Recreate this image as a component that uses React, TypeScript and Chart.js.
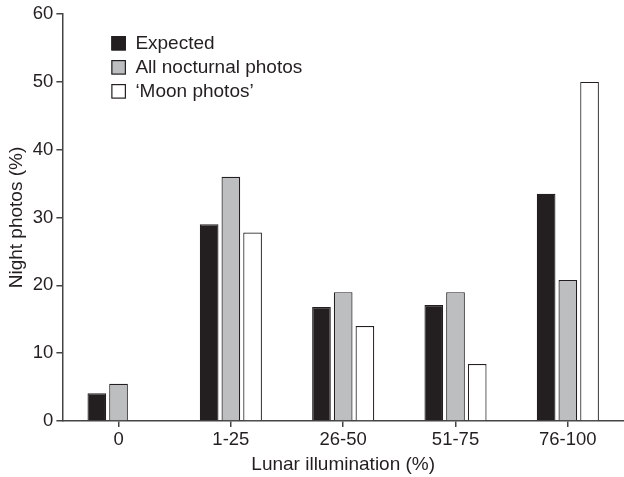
import React, { useEffect, useRef } from "react";
import { Chart, registerables } from "chart.js";

Chart.register(...registerables);

const categories = ["0", "1-25", "26-50", "51-75", "76-100"];
const expected = [4.1, 29.0, 16.8, 17.1, 33.5];
const allNocturnal = [5.5, 36.0, 19.0, 19.0, 20.8];
const moonPhotos = [0, 27.8, 14.0, 8.4, 50.0];
const seriesLabels = ["Expected", "All nocturnal photos", "\u2018Moon photos\u2019"];
const yTicks = [0, 10, 20, 30, 40, 50, 60];

const FONT = "'Liberation Sans', Arial, Helvetica, sans-serif";
const INK = "#231f20";

const legendPlugin = {
  id: "insideLegend",
  afterDraw(chart: any) {
    const { ctx, chartArea } = chart;
    const x0 = chartArea.left + 49;
    const y0 = chartArea.top + 29;
    ctx.save();
    ctx.font = `19px ${FONT}`;
    ctx.textBaseline = "middle";
    chart.data.datasets.forEach((ds: any, i: number) => {
      const cy = y0 + i * 24;
      ctx.fillStyle = ds.backgroundColor;
      ctx.fillRect(x0, cy - 7, 14, 14);
      ctx.strokeStyle = ds.borderColor;
      ctx.lineWidth = 1.2;
      ctx.strokeRect(x0 + 0.5, cy - 6.5, 13.5, 13.5);
      ctx.fillStyle = INK;
      ctx.fillText(ds.label, x0 + 24, cy + 1);
    });
    ctx.restore();
  },
};

export default function App() {
  const ref = useRef<HTMLCanvasElement>(null);
  useEffect(() => {
    if (!ref.current) return;
    const mk = (label: string, data: number[], bg: string) => ({
      label,
      data,
      backgroundColor: bg,
      borderColor: INK,
      borderWidth: 1.2,
      categoryPercentage: 0.58,
      barPercentage: 0.86,
    });
    const chart = new Chart(ref.current, {
      type: "bar",
      data: {
        labels: categories,
        datasets: [
          mk(seriesLabels[0], expected, "#231f20"),
          mk(seriesLabels[1], allNocturnal, "#bcbec0"),
          mk(seriesLabels[2], moonPhotos, "#ffffff"),
        ],
      },
      options: {
        animation: false,
        responsive: false,
        devicePixelRatio: 1,
        layout: { padding: { top: 6, right: 0, left: 5, bottom: 0 } },
        plugins: {
          legend: { display: false },
          tooltip: { enabled: false },
        },
        scales: {
          x: {
            offset: true,
            grid: {
              offset: false,
              drawOnChartArea: false,
              drawTicks: true,
              tickLength: 6,
              color: "#444",
              lineWidth: 1.5,
            },
            border: { display: true, color: "#444", width: 1.5 },
            ticks: { color: INK, font: { family: FONT, size: 18.5 }, padding: 2 },
            title: {
              display: true,
              text: "Lunar illumination (%)",
              color: INK,
              font: { family: FONT, size: 19 },
              padding: { top: 0, bottom: 1 },
            },
          },
          y: {
            min: 0,
            max: 60,
            afterBuildTicks: (axis: any) => {
              axis.ticks = yTicks.map((v) => ({ value: v }));
            },
            grid: {
              drawOnChartArea: false,
              drawTicks: true,
              tickLength: 6,
              color: "#444",
              lineWidth: 1.5,
            },
            border: { display: true, color: "#444", width: 1.5 },
            ticks: { color: INK, font: { family: FONT, size: 18.5 }, padding: 3 },
            title: {
              display: true,
              text: "Night photos (%)",
              color: INK,
              font: { family: FONT, size: 19 },
              padding: { top: 0, bottom: 2 },
            },
          },
        },
      },
      plugins: [legendPlugin],
    });
    return () => chart.destroy();
  }, []);
  return (
    <div style={{ position: "fixed", left: 0, top: 0, width: 624, height: 477, background: "#fff" }}>
      <canvas ref={ref} width={624} height={477} style={{ width: 624, height: 477 }} />
    </div>
  );
}
